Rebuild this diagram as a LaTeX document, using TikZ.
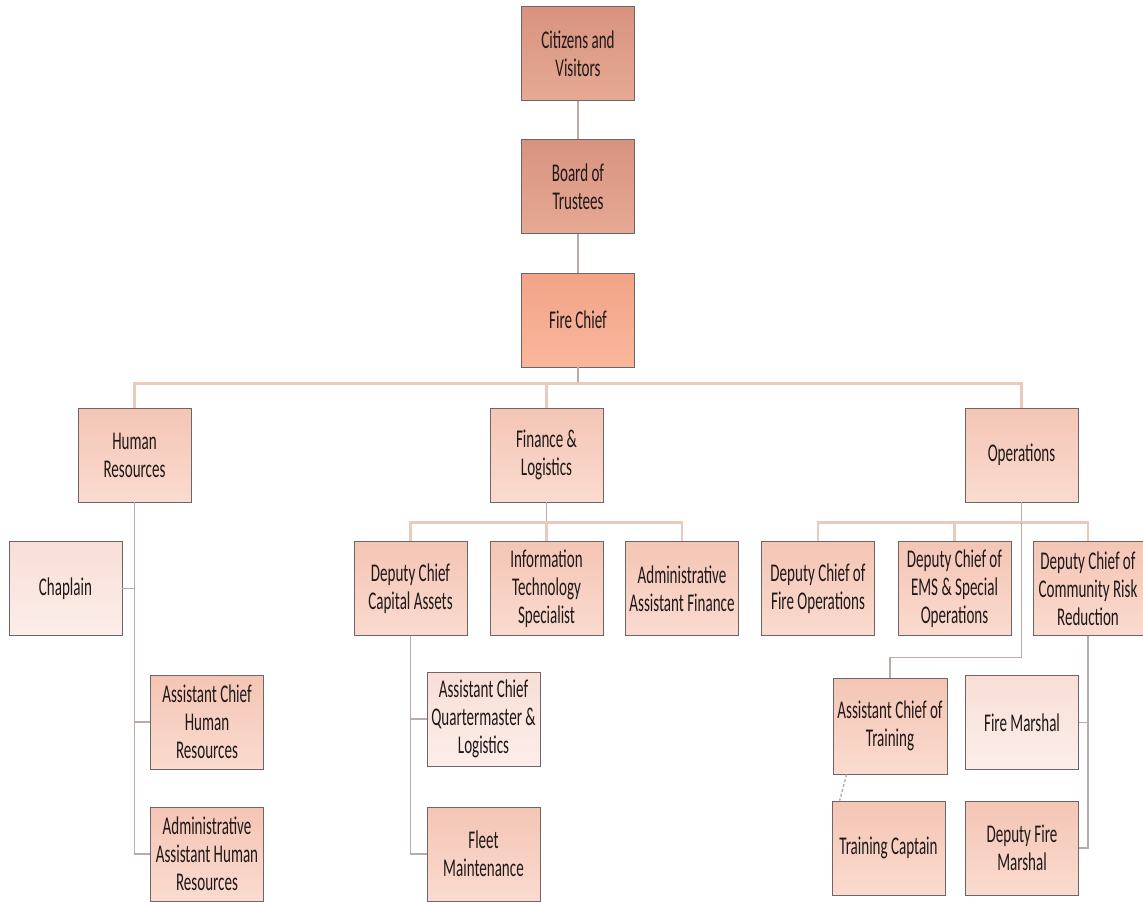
\documentclass[tikz,border=0pt]{standalone}
\usepackage{fontspec}
\setmainfont{Carlito}[FakeStretch=0.59]
\usepackage{tikz}
\usetikzlibrary{calc}

\definecolor{ink}{HTML}{1F1818}
\definecolor{edge}{HTML}{6E6666}
\definecolor{wire}{HTML}{B9ABA6}
\definecolor{bar}{HTML}{EBC9BD}
\definecolor{topA}{HTML}{D8937F}
\definecolor{botA}{HTML}{E6A994}
\definecolor{topB}{HTML}{F2A387}
\definecolor{botB}{HTML}{F9B79C}
\definecolor{topC}{HTML}{F4C5B5}
\definecolor{botC}{HTML}{FADBCF}
\definecolor{topD}{HTML}{F8DED7}
\definecolor{botD}{HTML}{FCEEEA}

\tikzset{
  unit/.style={draw=edge, line width=0.8pt, minimum width=113, minimum height=94,
    inner sep=1pt, align=center, text=ink, font=\fontsize{25.5}{28}\selectfont},
  board/.style={unit, top color=topA, bottom color=botA},
  chief/.style={unit, top color=topB, bottom color=botB},
  dept/.style={unit, top color=topC, bottom color=botC},
  staff/.style={unit, top color=topD, bottom color=botD},
  link/.style={draw=wire, line width=1.4pt},
  busline/.style={draw=bar, line width=2.4pt}
}

\begin{document}
\begin{tikzpicture}[x=1pt,y=-1pt]
    \useasboundingbox (0,0) rectangle (1143,902);

    %Top of the chart
    \node[board] (citizens) at (578,53.5) {Citizens and\\Visitors};
    \node[board] (trustees) at (578,186.5) {Board of\\Trustees};
    \node[chief] (firechief) at (578,320) {Fire Chief};

    %Divisions
    \node[dept] (hr) at (134.5,455) {Human\\Resources};
    \node[dept] (finance) at (546.5,455) {Finance \&\\Logistics};
    \node[dept] (ops) at (1021.5,455) {Operations};

    %Human resources branch
    \node[staff] (chaplain) at (65.5,588.5) {Chaplain};
    \node[dept] (achr) at (207,722) {Assistant Chief\\Human\\Resources};
    \node[dept] (aahr) at (207,854) {Administrative\\Assistant Human\\Resources};

    %Finance branch
    \node[dept] (dcca) at (410.5,588.5) {Deputy Chief\\Capital Assets};
    \node[dept] (itspec) at (546.5,588.5) {Information\\Technology\\Specialist};
    \node[dept] (aafin) at (682,588.5) {Administrative\\Assistant Finance};
    \node[staff] (acqm) at (483.5,719) {Assistant Chief\\Quartermaster \&\\Logistics};
    \node[dept] (fleet) at (483.5,854) {Fleet\\Maintenance};

    %Operations branch
    \node[dept] (dcfo) at (818,588.5) {Deputy Chief of\\Fire Operations};
    \node[dept] (dcems) at (954.5,588.5) {Deputy Chief of\\EMS \& Special\\Operations};
    \node[dept, minimum width=110] (dccrr) at (1088,588.5) {Deputy Chief of\\Community Risk\\Reduction};
    \node[dept, minimum width=114, minimum height=96] (actrain) at (890,726) {Assistant Chief of\\Training};
    \node[dept] (tcaptain) at (888.5,848) {Training Captain};
    \node[staff] (marshal) at (1022,722.5) {Fire Marshal};
    \node[dept] (dmarshal) at (1022,848) {Deputy Fire\\Marshal};

    %Straight Lines, top
    \draw[link] (citizens) -- (trustees);
    \draw[link] (trustees) -- (firechief);
    \draw[link] (firechief.south) -- ++(0,16) coordinate (hub);
    \draw[busline] (hub) -| (hr.north);
    \draw[busline] (hub) -| (ops.north);
    \draw[busline] (hub) -| (finance.north);

    %Straight Lines, human resources
    \draw[link] (hr.south) |- (aahr.west);
    \draw[link] (hr.south) |- (achr.west);
    \draw[link] (chaplain.east) -- (chaplain.east -| hr.south);

    %Straight Lines, finance
    \draw[link] (finance.south) -- ++(0,20) coordinate (finhub);
    \draw[busline] (finhub) -| (dcca.north);
    \draw[busline] (finhub) -| (aafin.north);
    \draw[busline] (finhub) -- (itspec.north);
    \draw[link] (dcca.south) |- (acqm.west);
    \draw[link] (dcca.south) |- (fleet.west);

    %Straight Lines, operations
    \draw[link] (ops.south) -- ++(0,20) coordinate (opshub);
    \draw[busline] (opshub) -| (dcfo.north);
    \draw[busline] (opshub) -| (dcems.north);
    \draw[busline] (opshub) -| (dccrr.north);
    \draw[link] (opshub) -- ++(0,135) -| (actrain.north);
    \draw[link, densely dashed] ($(actrain.south west)+(14,0)$) -- ($(tcaptain.north west)+(8,0)$);
    \draw[link] (dccrr.south) |- (marshal.east);
    \draw[link] (dccrr.south) |- (dmarshal.east);

\end{tikzpicture}
\end{document}
